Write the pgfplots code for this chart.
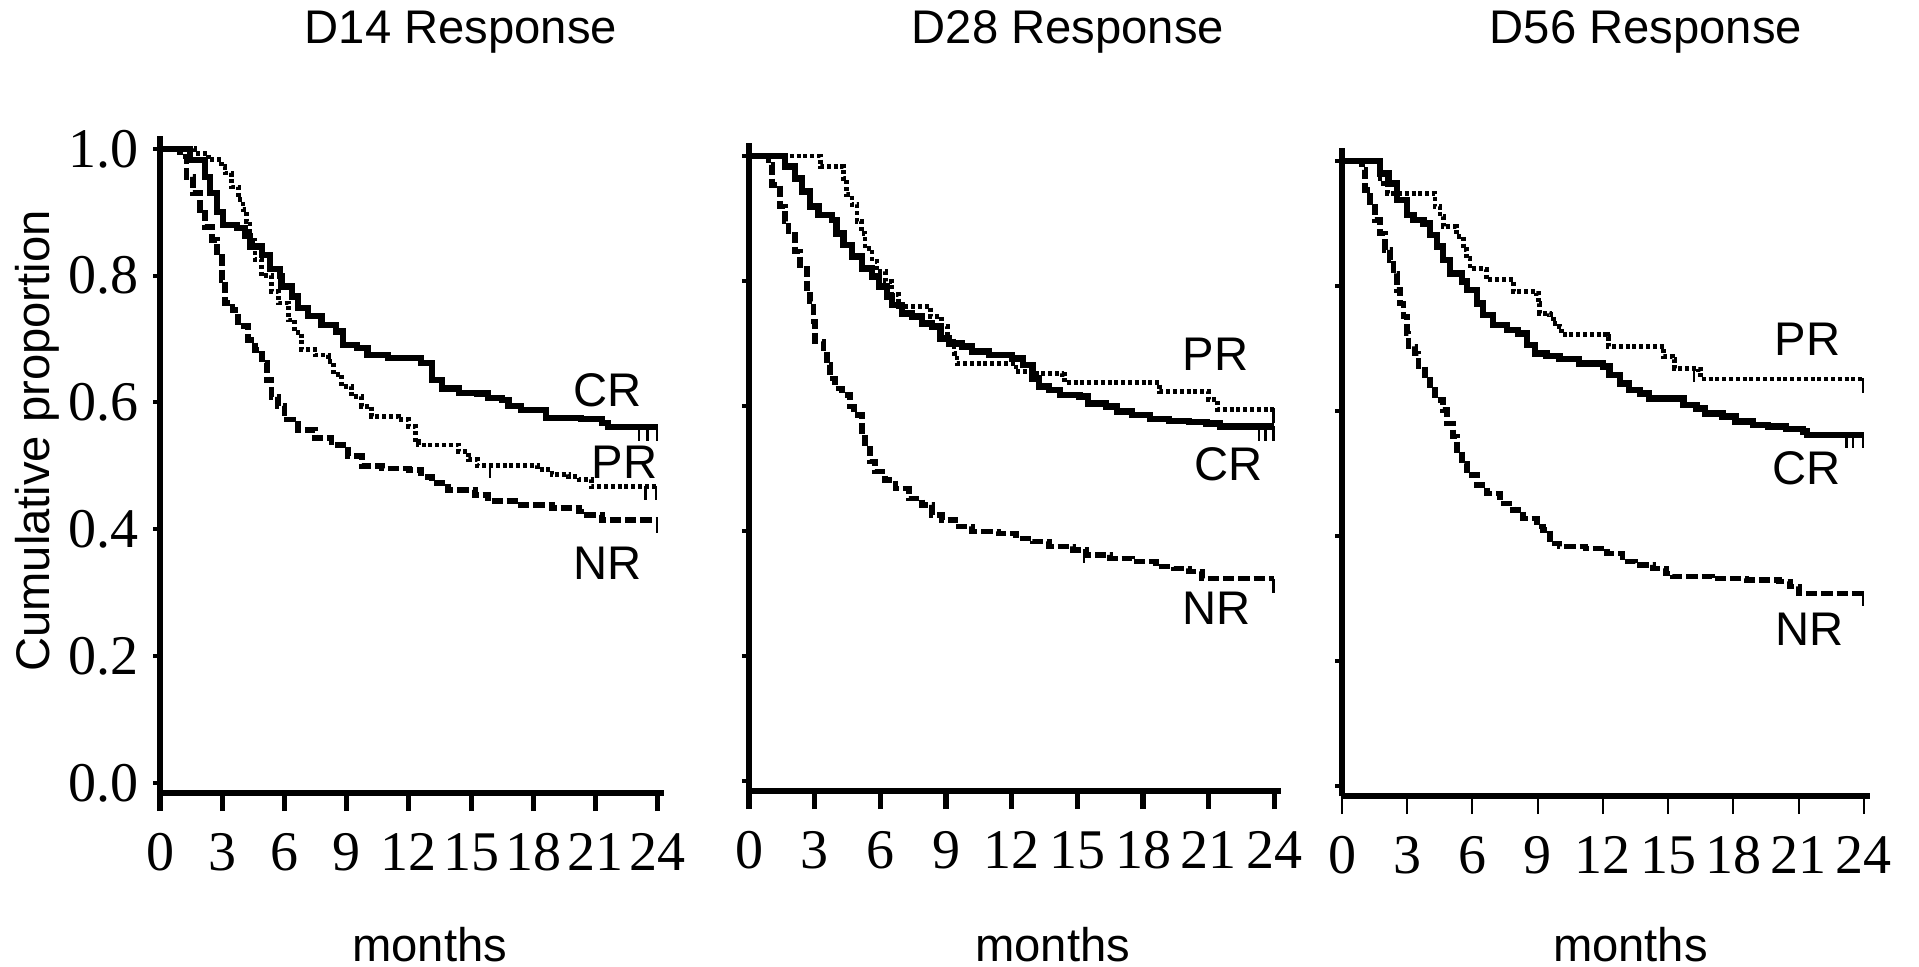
\documentclass[border=0pt]{standalone}
\usepackage{fontspec}
\setmainfont{Liberation Sans}
\newfontfamily\tnr{Liberation Serif}
\usepackage{pgfplots}
\pgfplotsset{compat=1.18}

\newcommand\lab{\fontsize{11.8}{14}\selectfont}

\pgfplotsset{
  km/.style={
    scale only axis, anchor=south west, clip=false,
    axis lines=left,
    x axis line style={-, line width=1.5pt},
    y axis line style={-, line width=1.3pt},
    xmin=0, xmax=24.3, ymin=-0.016, ymax=1.02,
    xtick={0,3,...,24}, ytick={0,0.2,0.4,0.6,0.8,1.0},
    tick align=outside,
    x tick style={line width=1.3pt, black, /pgfplots/major tick length=4.5pt},
    y tick style={line width=1pt, black, /pgfplots/major tick length=1.75pt},
    /pgf/number format/assume math mode=true,
    ticklabel style={font=\tnr\fontsize{14}{14}\selectfont, inner sep=0pt},
    xticklabel style={anchor=north, yshift=-5.5pt, text height=9.3pt, text depth=0pt},
    yticklabel style={xshift=-0.8pt, /pgf/number format/fixed, /pgf/number format/fixed zerofill,
      /pgf/number format/precision=1},
  },
  cr/.style={const plot, black, line width=1.55pt, no marks},
  pr/.style={const plot, black, line width=1.2pt, dash pattern=on 1pt off 0.7pt, no marks},
  nr/.style={const plot, black, line width=1.45pt, dash pattern=on 2.8pt off 1pt, no marks},
  cens/.style={only marks, black, mark=|, mark size=1.8pt, mark options={line width=0.6pt, solid}},
}

\begin{document}
\begin{tikzpicture}
\path[use as bounding box] (0,0) rectangle (479.75pt,241.5pt);

% D14
\begin{axis}[km, at={(40pt,43.25pt)}, width=126pt, height=164.2pt]
\addplot[cr] coordinates {(0,1)(1.1,1)(1.45,0.983)(2.17,0.956)(2.4,0.93)(2.73,0.90)(3.05,0.88)(3.7,0.875)(4.1,0.862)(4.34,0.846)(4.9,0.833)(5.3,0.81)(5.78,0.80)(5.86,0.783)(6.35,0.767)(6.67,0.749)(7.14,0.736)(7.79,0.722)(8.5,0.712)(8.84,0.691)(9.48,0.686)(10.0,0.675)(11.0,0.67)(12.6,0.662)(13.1,0.636)(13.6,0.622)(14.4,0.615)(15.3,0.614)(15.8,0.607)(16.5,0.604)(16.8,0.594)(17.4,0.588)(18.6,0.575)(20.3,0.574)(21.3,0.567)(21.6,0.561)(24,0.561)};
\addplot[pr] coordinates {(0,1)(1.37,1)(1.69,0.993)(2.33,0.983)(2.97,0.972)(3.13,0.962)(3.45,0.94)(3.78,0.92)(4.0,0.904)(4.18,0.885)(4.34,0.856)(4.58,0.825)(4.9,0.80)(5.38,0.775)(5.7,0.757)(6.18,0.73)(6.5,0.71)(6.83,0.683)(7.47,0.675)(8.11,0.665)(8.35,0.644)(8.75,0.625)(9.24,0.609)(9.72,0.594)(10.2,0.578)(11.5,0.573)(12.0,0.562)(12.3,0.538)(12.45,0.533)(13.9,0.533)(14.4,0.523)(14.86,0.51)(15.3,0.50)(17.4,0.50)(18.2,0.494)(18.9,0.486)(19.7,0.483)(20.2,0.478)(20.8,0.467)(24,0.467)};
\addplot[nr] coordinates {(0,1)(0.64,1)(0.96,0.988)(1.28,0.956)(1.6,0.93)(1.93,0.904)(2.17,0.877)(2.49,0.856)(2.73,0.83)(2.97,0.793)(3.13,0.757)(3.5,0.746)(3.77,0.72)(4.26,0.699)(4.58,0.683)(4.9,0.662)(5.14,0.636)(5.38,0.609)(5.7,0.594)(6.0,0.573)(6.67,0.557)(7.47,0.544)(8.27,0.533)(9.08,0.515)(9.72,0.50)(10.7,0.496)(12.0,0.494)(12.6,0.483)(13.1,0.473)(13.9,0.462)(15.2,0.454)(15.8,0.444)(17.4,0.438)(18.9,0.433)(20.2,0.428)(20.6,0.423)(21.3,0.415)(24,0.415)};
\addplot[cens] coordinates {(23.1,0.551)(23.5,0.551)(23.95,0.551)(15.9,0.492)(23.4,0.457)(23.9,0.457)(23.95,0.405)};
\node[font=\lab] at (axis cs:21.6,0.62) {CR};
\node[font=\lab] at (axis cs:22.4,0.505) {PR};
\node[font=\lab] at (axis cs:21.6,0.347) {NR};
\end{axis}

% D28
\begin{axis}[km, at={(187.25pt,43.75pt)}, width=133pt, height=161.9pt, yticklabels={}]
\addplot[cr] coordinates {(0,1)(1.19,1)(1.65,0.983)(2.1,0.964)(2.41,0.943)(2.79,0.919)(3.17,0.906)(3.79,0.898)(4.0,0.876)(4.32,0.858)(4.7,0.839)(5.16,0.82)(5.62,0.807)(5.92,0.791)(6.3,0.775)(6.53,0.762)(6.99,0.748)(7.45,0.743)(7.91,0.732)(8.37,0.727)(8.75,0.708)(9.13,0.70)(9.74,0.695)(10.2,0.687)(10.96,0.682)(12.0,0.676)(12.5,0.666)(12.95,0.644)(13.25,0.631)(13.7,0.626)(14.2,0.618)(15.1,0.615)(15.5,0.604)(16.3,0.599)(16.8,0.591)(17.5,0.585)(18.3,0.579)(19.2,0.576)(20.1,0.574)(20.9,0.572)(21.5,0.567)(24,0.567)};
\addplot[pr] coordinates {(0,1)(3.1,1)(3.25,0.983)(4.25,0.983)(4.32,0.964)(4.47,0.938)(4.7,0.922)(4.93,0.895)(5.13,0.876)(5.3,0.852)(5.62,0.831)(5.85,0.815)(6.23,0.799)(6.53,0.778)(6.84,0.759)(8.14,0.759)(8.29,0.743)(8.8,0.727)(9.05,0.708)(9.36,0.684)(9.5,0.668)(12.0,0.668)(12.2,0.655)(12.95,0.652)(14.3,0.650)(14.4,0.638)(18.6,0.638)(18.75,0.623)(20.9,0.623)(21.0,0.61)(21.4,0.594)(24,0.594)};
\addplot[nr] coordinates {(0,1)(0.58,1)(0.89,0.986)(1.04,0.954)(1.42,0.919)(1.65,0.895)(1.8,0.874)(2.1,0.847)(2.34,0.82)(2.64,0.788)(2.79,0.767)(2.95,0.735)(3.02,0.703)(3.4,0.692)(3.56,0.666)(3.71,0.644)(3.94,0.628)(4.24,0.618)(4.63,0.599)(4.78,0.586)(5.16,0.559)(5.31,0.532)(5.54,0.511)(5.77,0.495)(6.23,0.482)(6.69,0.468)(7.3,0.452)(7.91,0.442)(8.37,0.426)(8.82,0.418)(9.43,0.407)(10.2,0.399)(11.4,0.396)(12.2,0.388)(12.95,0.383)(13.7,0.375)(14.8,0.37)(15.4,0.362)(16.5,0.356)(17.5,0.351)(18.6,0.343)(19.4,0.34)(20.1,0.335)(20.7,0.324)(24,0.324)};
\addplot[cens] coordinates {(23.95,0.585)(23.3,0.556)(23.6,0.556)(23.95,0.556)(15.3,0.36)(23.95,0.312)};
\node[font=\lab] at (axis cs:21.3,0.682) {PR};
\node[font=\lab] at (axis cs:21.9,0.506) {CR};
\node[font=\lab] at (axis cs:21.35,0.277) {NR};
\end{axis}

% D56
\begin{axis}[km, at={(335.5pt,42.5pt)}, width=132.1pt, height=161.9pt, yticklabels={},
  x tick style={line width=0.5pt, black, /pgfplots/major tick length=4.5pt}]
\addplot[cr] coordinates {(0,1)(1.53,1)(1.76,0.98)(2.14,0.964)(2.52,0.938)(2.98,0.914)(3.29,0.906)(3.75,0.90)(4.05,0.882)(4.36,0.863)(4.66,0.842)(4.97,0.82)(5.5,0.807)(5.73,0.794)(6.2,0.772)(6.5,0.754)(6.96,0.738)(7.57,0.73)(8.1,0.724)(8.49,0.706)(8.87,0.692)(9.4,0.688)(10.0,0.683)(10.9,0.676)(12.0,0.671)(12.3,0.658)(12.8,0.644)(13.2,0.633)(13.7,0.628)(14.1,0.62)(15.2,0.62)(15.7,0.61)(16.3,0.604)(16.7,0.596)(17.5,0.591)(18.1,0.583)(18.9,0.578)(19.6,0.575)(20.4,0.571)(21.2,0.567)(21.4,0.562)(24,0.562)};
\addplot[pr] coordinates {(0,1)(1.5,1)(1.75,0.964)(2.1,0.948)(4.2,0.948)(4.28,0.927)(4.51,0.911)(4.66,0.895)(5.2,0.895)(5.27,0.879)(5.58,0.858)(5.73,0.844)(5.89,0.828)(6.5,0.826)(6.65,0.81)(7.72,0.81)(7.87,0.791)(8.95,0.788)(9.02,0.772)(9.1,0.756)(9.56,0.754)(9.71,0.74)(10.0,0.735)(10.1,0.722)(12.2,0.719)(12.25,0.703)(14.7,0.703)(14.8,0.687)(15.2,0.682)(15.3,0.668)(16.4,0.666)(16.5,0.651)(24,0.651)};
\addplot[nr] coordinates {(0,1)(0.76,1)(0.92,0.986)(1.07,0.954)(1.3,0.927)(1.53,0.906)(1.76,0.884)(1.99,0.858)(2.22,0.842)(2.37,0.82)(2.52,0.794)(2.68,0.772)(2.83,0.751)(2.98,0.724)(3.06,0.703)(3.36,0.692)(3.52,0.671)(3.82,0.65)(4.05,0.634)(4.28,0.618)(4.66,0.602)(4.82,0.58)(5.12,0.559)(5.27,0.538)(5.5,0.516)(5.73,0.498)(6.2,0.482)(6.65,0.468)(7.27,0.452)(7.87,0.442)(8.33,0.428)(8.95,0.415)(9.25,0.41)(9.56,0.388)(10.0,0.383)(11.2,0.38)(12.2,0.372)(12.9,0.359)(13.5,0.354)(14.3,0.348)(14.9,0.34)(15.2,0.335)(17.0,0.332)(18.6,0.33)(20.1,0.327)(20.6,0.319)(21.0,0.308)(24,0.308)};
\addplot[cens] coordinates {(16.2,0.658)(23.95,0.641)(23.2,0.552)(23.5,0.552)(23.95,0.552)(23.95,0.30)};
\node[font=\lab] at (axis cs:21.4,0.714) {PR};
\node[font=\lab] at (axis cs:21.35,0.509) {CR};
\node[font=\lab] at (axis cs:21.5,0.25) {NR};
\end{axis}

% titles and axis labels
\node[font=\lab] at (115.25pt,233.5pt) {D14 Response};
\node[font=\lab] at (267pt,233.5pt) {D28 Response};
\node[font=\lab] at (411.5pt,233.5pt) {D56 Response};
\node[font=\lab, rotate=90] at (9.25pt,131.25pt) {Cumulative proportion};
\node[font=\lab] at (107.4pt,5.25pt) {months};
\node[font=\lab] at (263.2pt,5.25pt) {months};
\node[font=\lab] at (407.6pt,5.25pt) {months};
\end{tikzpicture}
\end{document}
